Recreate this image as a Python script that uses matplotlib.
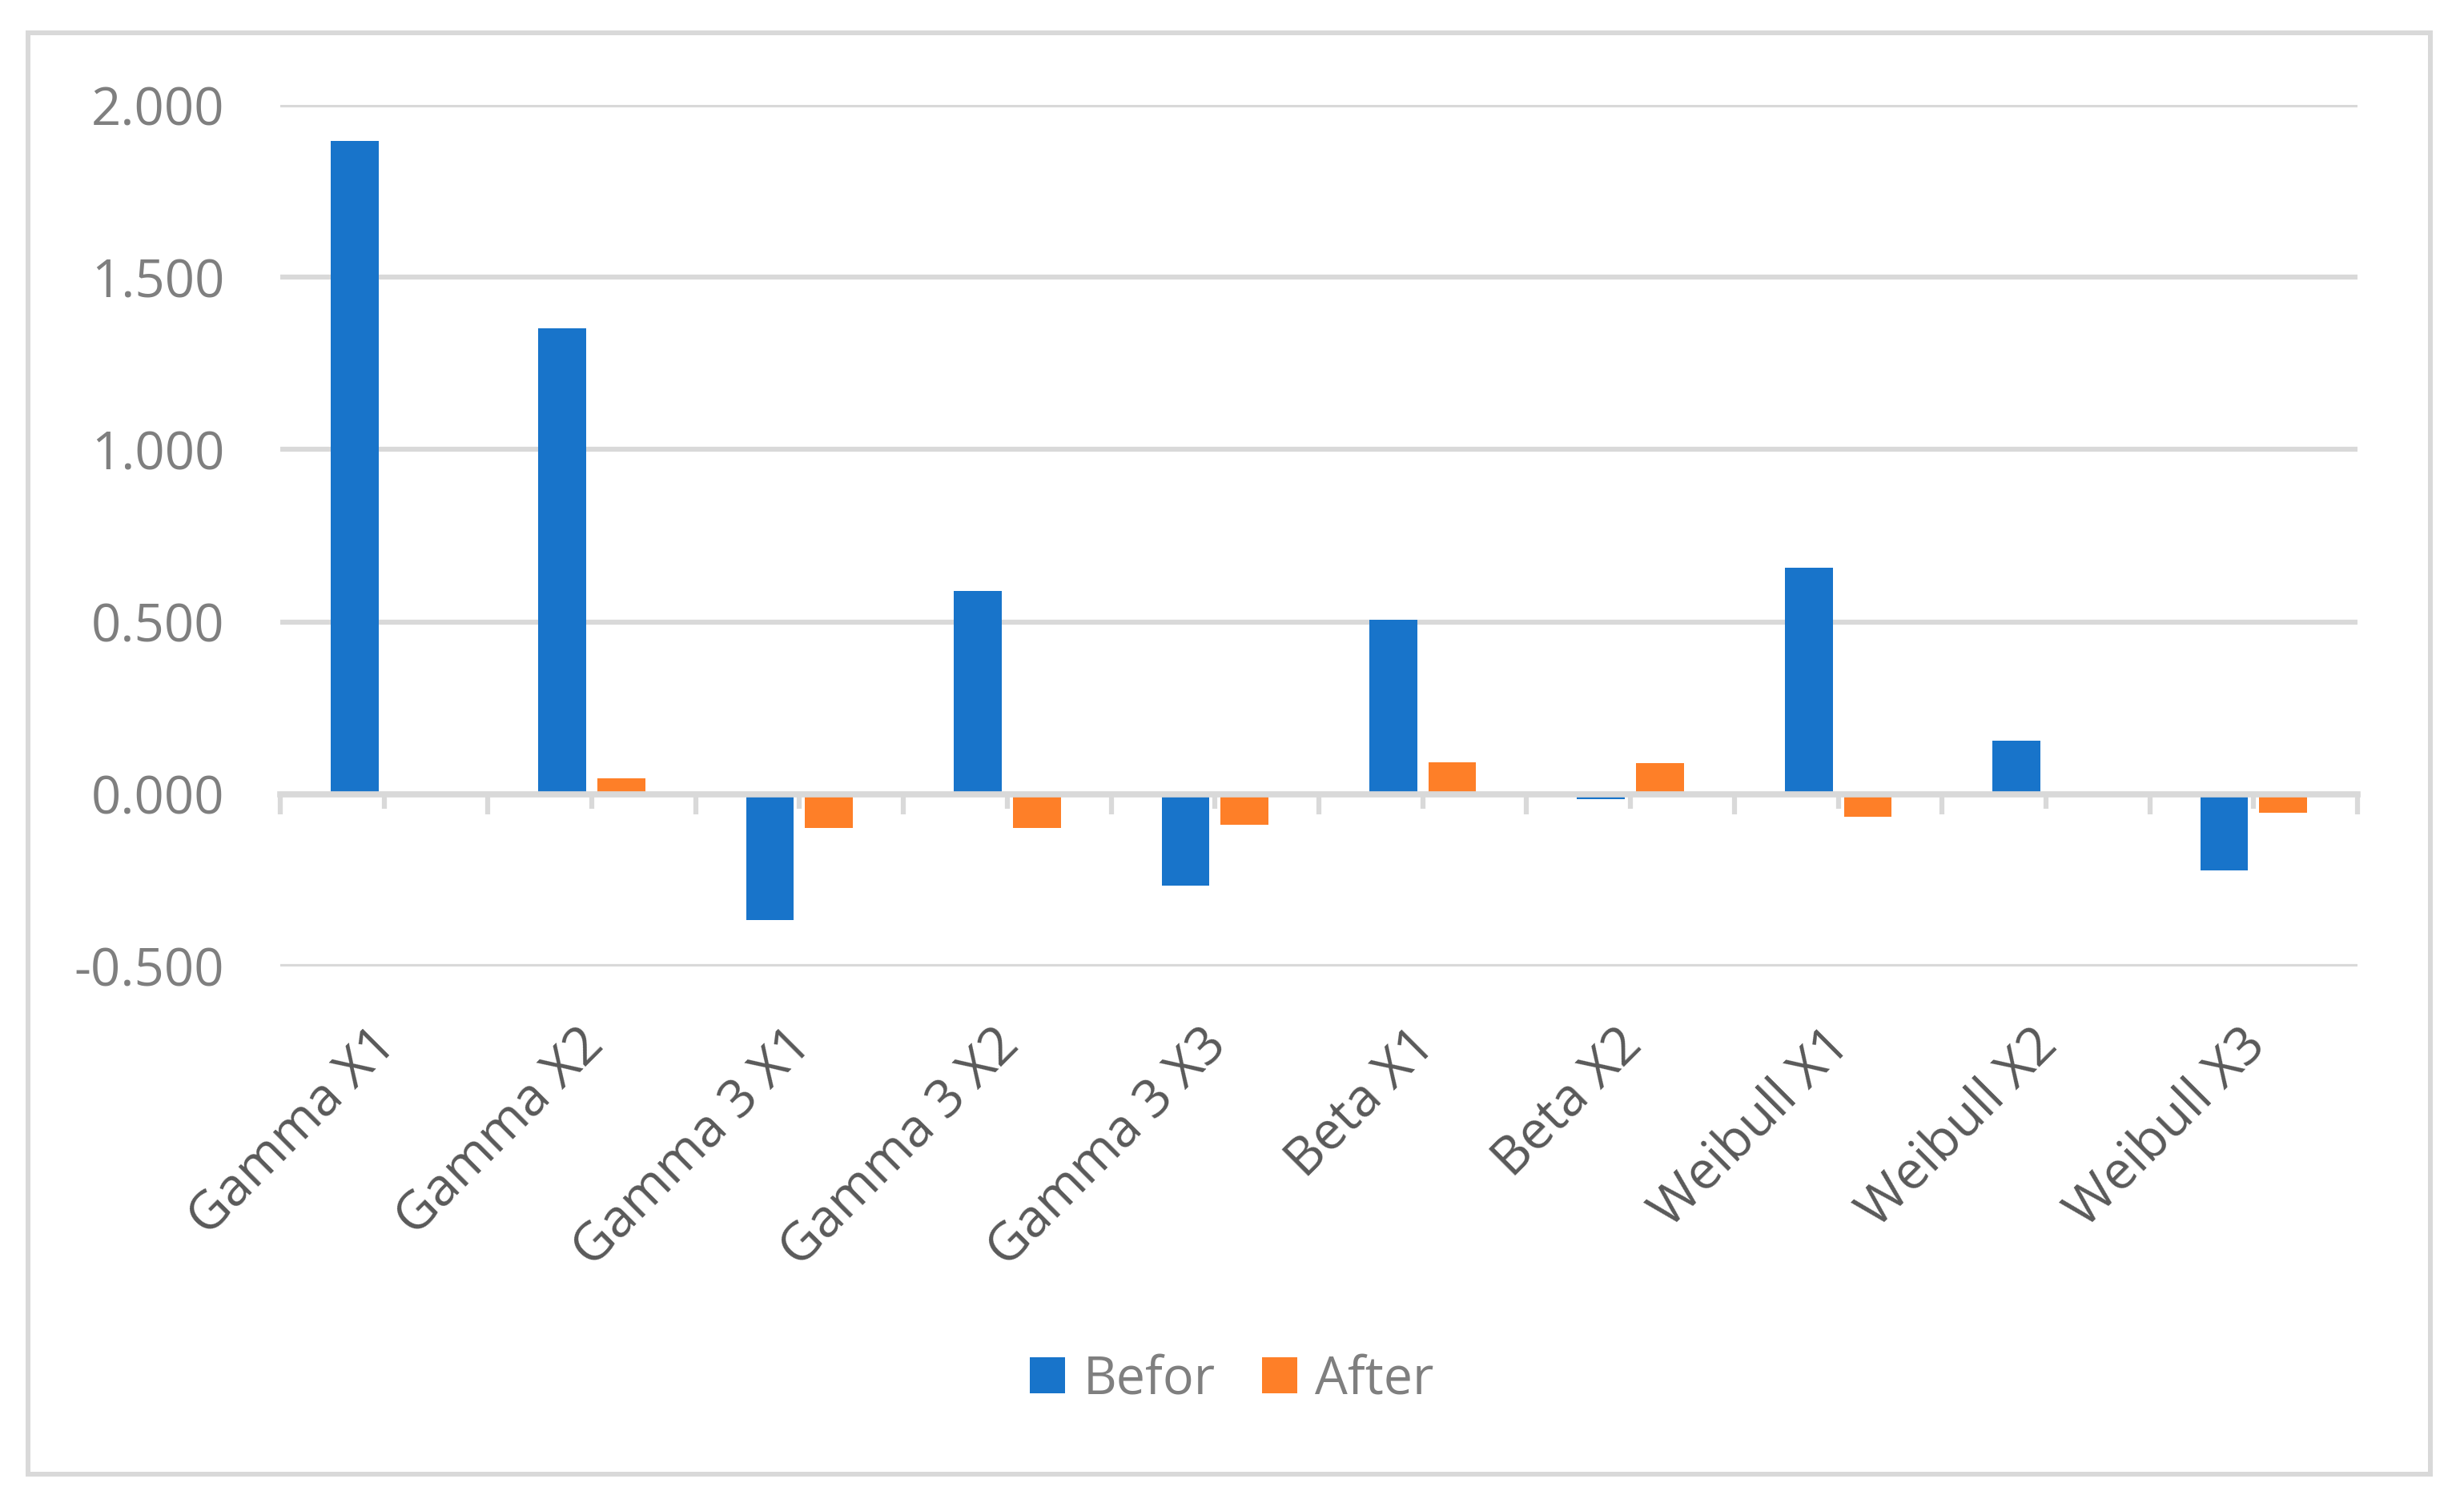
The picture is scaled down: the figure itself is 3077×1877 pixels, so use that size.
import numpy as np
import matplotlib
matplotlib.use("Agg")
import matplotlib.pyplot as plt
from matplotlib.patches import Rectangle
from matplotlib.transforms import ScaledTranslation

categories = ["Gamma X1", "Gamma X2", "Gamma 3 X1", "Gamma 3 X2", "Gamma 3 X3",
              "Beta X1", "Beta X2", "Weibull X1", "Weibull X2", "Weibull X3"]
before = [1.895, 1.352, -0.365, 0.589, -0.265, 0.507, -0.015, 0.658, 0.155, -0.222]
after = [0.0, 0.045, -0.098, -0.098, -0.090, 0.092, 0.090, -0.065, 0.0, -0.055]
series_names = ["Befor", "After"]
yticks = [-0.5, 0.0, 0.5, 1.0, 1.5, 2.0]

BLUE = "#1874CA"
ORANGE = "#FE7F28"
GRID = "#D9D9D9"

plt.rcParams["font.family"] = ["Open Sans", "DejaVu Sans"]

fig = plt.figure(figsize=(30.77, 18.77), dpi=100)
ax = fig.add_axes([0.1137, 0.357, 0.8431, 0.5732])

x = np.arange(len(categories))
w = 0.23
ax.bar(x - 0.142, before, w, color=BLUE, label=series_names[0], zorder=1)
ax.bar(x + 0.142, after, w, color=ORANGE, label=series_names[1], zorder=1)

ax.set_xlim(-0.5, len(categories) - 0.5)
ax.set_ylim(-0.5, 2.0)
ax.set_yticks(yticks)
ax.set_yticklabels([f"{v:.3f}" for v in yticks])
ax.tick_params(axis="y", length=0, pad=50, labelsize=47, labelcolor="#7F7F7F")
ax.yaxis.grid(True, color=GRID, linewidth=4.5)
ax.set_axisbelow(True)

for s in ["left", "right", "top"]:
    ax.spines[s].set_visible(False)
ax.spines["bottom"].set_position(("data", 0))
ax.spines["bottom"].set_color(GRID)
ax.spines["bottom"].set_linewidth(5.5)

# tick marks on the zero line: long between categories, short at centres
ax.set_xticks(np.arange(-0.5, len(categories), 1.0))
ax.set_xticks(x, minor=True)
ax.tick_params(axis="x", which="major", length=18, width=4.5, color=GRID,
               direction="out", labelbottom=False)
ax.tick_params(axis="x", which="minor", length=13, width=4.5, color=GRID,
               direction="out", labelbottom=False)

# category labels at the bottom of the plot area
sec = ax.secondary_xaxis("bottom")
sec.set_xticks(x)
sec.set_xticklabels(categories, rotation=45, ha="right", va="center",
                    rotation_mode="anchor")
sec.tick_params(length=0, pad=64, labelsize=47.5, labelcolor="#595959")
sec.spines["bottom"].set_visible(False)
shift = ScaledTranslation(4 / 72, 0, fig.dpi_scale_trans)
for lab in sec.get_xticklabels():
    lab.set_transform(lab.get_transform() + shift)

leg = fig.legend(loc="center", bbox_to_anchor=(0.5, 0.082), ncol=2, frameon=False,
                 fontsize=46.5, handlelength=0.68, handleheight=0.68,
                 handletextpad=0.35, columnspacing=0.9, borderpad=0)
for t in leg.get_texts():
    t.set_color("#7F7F7F")

fig.patches.append(Rectangle((0.01137, 0.01918), 0.975, 0.959, transform=fig.transFigure,
                             fill=False, edgecolor=GRID, linewidth=4.3))

fig.savefig("out.png", dpi=100, facecolor="white")
